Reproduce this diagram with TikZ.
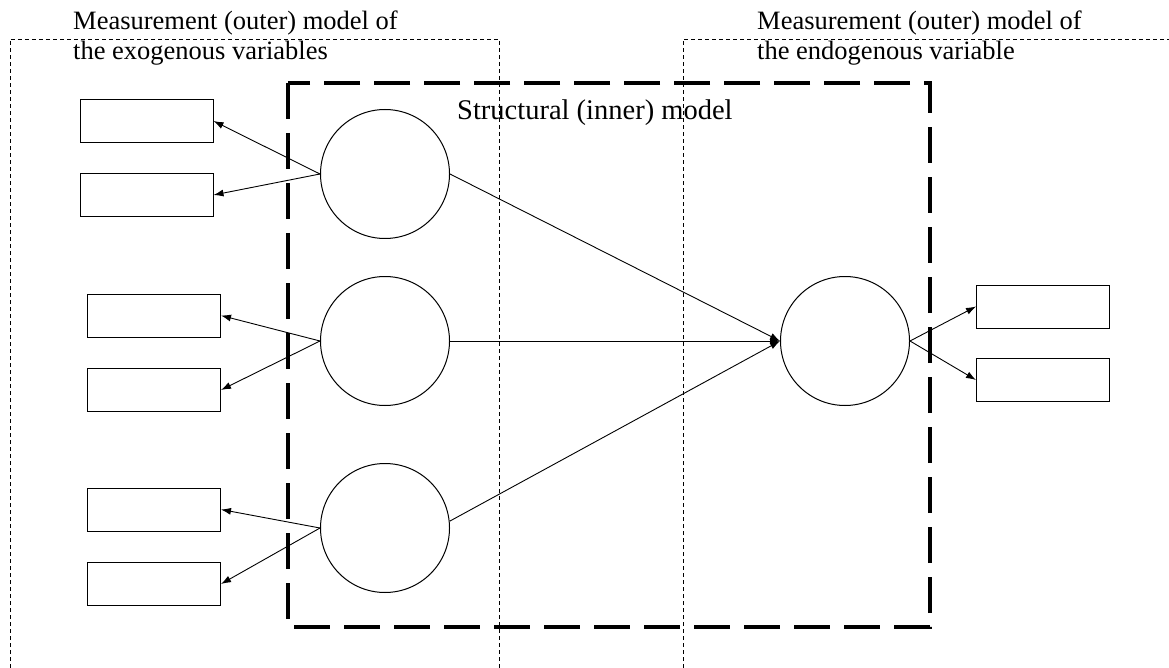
\documentclass[tikz,border=0pt]{standalone}
\usepackage{fontspec}
\setmainfont{Liberation Serif}
\usetikzlibrary{arrows.meta}
\tikzset{
	indicator/.style={draw, line width=1pt, minimum width=133pt, minimum height=43pt, inner sep=0pt},
	construct/.style={draw, circle, line width=1pt, minimum size=129pt, inner sep=0pt},
	loading/.style={line width=0.9pt, -{Latex[length=10pt,width=7pt]}},
	region/.style={line width=0.8pt, dash pattern=on 4pt off 3pt},
	inner model/.style={line width=4pt, dash pattern=on 36pt off 14pt},
	caption/.style={inner sep=0pt, align=left, font=\fontsize{26.5}{29.5}\selectfont}
}
\begin{document}
\begin{tikzpicture}[x=1pt, y=-1pt]
		\useasboundingbox (0,0) rectangle (1169,668);
		% measurement regions and structural box
		\draw [region] (10,668) -- (10,39) -- (499,39) -- (499,668);
		\draw [region] (683,668) -- (683,39) -- (1169,39);
		\draw [inner model] (288,83) rectangle (930,627);
		\node (exolabel) [caption, anchor=north west] at (73,11) {Measurement (outer) model of\\the exogenous variables};
		\node (endolabel) [caption, anchor=north west] at (757,11) {Measurement (outer) model of\\the endogenous variable};
		\node (innerlabel) [caption, font=\fontsize{28.5}{32}\selectfont, anchor=base west] at (457,120) {Structural (inner) model};
		% constructs
		\node (exoA) [construct] at (385,174) {};
		\node (exoB) [construct] at (385,341) {};
		\node (exoC) [construct] at (385,528) {};
		\node (endo) [construct] at (845,341) {};
		% indicators
		\node (a1) [indicator] at (146.5,121) {};
		\node (a2) [indicator] at (146.5,195) {};
		\node (b1) [indicator] at (154,315.5) {};
		\node (b2) [indicator] at (154,390) {};
		\node (c1) [indicator] at (154,509.5) {};
		\node (c2) [indicator] at (154,584) {};
		\node (y1) [indicator] at (1043,306.5) {};
		\node (y2) [indicator] at (1043,380) {};
		% outer loadings
		\draw [loading] (exoA.west) -- (a1.east);
		\draw [loading] (exoA.west) -- (a2.east);
		\draw [loading] (exoB.west) -- (b1.east);
		\draw [loading] (exoB.west) -- (b2.east);
		\draw [loading] (exoC.west) -- (c1.east);
		\draw [loading] (exoC.west) -- (c2.east);
		\draw [loading] (endo.east) -- (y1.west);
		\draw [loading] (endo.east) -- (y2.west);
		% structural paths
		\draw [loading] (exoA.east) -- (endo.west);
		\draw [loading] (exoB.east) -- (endo.west);
		\draw [loading] (exoC.6) -- (endo.west);
	\end{tikzpicture}
\end{document}
